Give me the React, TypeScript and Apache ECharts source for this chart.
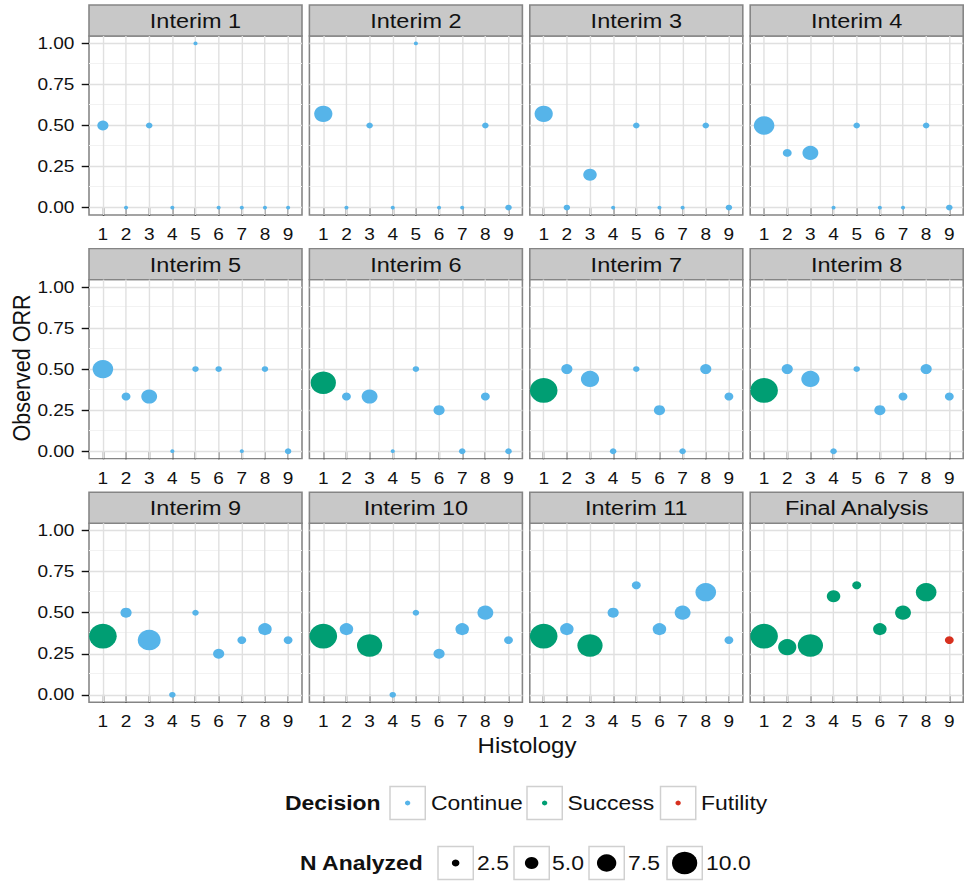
import React, { useEffect, useRef } from "react";
import * as echarts from "echarts";

// ---------------- data ----------------
const panelTitles = [
  "Interim 1", "Interim 2", "Interim 3", "Interim 4",
  "Interim 5", "Interim 6", "Interim 7", "Interim 8",
  "Interim 9", "Interim 10", "Interim 11", "Final Analysis",
];
const histology = [1, 2, 3, 4, 5, 6, 7, 8, 9];
const yTicks = [0, 0.25, 0.5, 0.75, 1];
const yMinorTicks = [0.125, 0.375, 0.625, 0.875];

// observed ORR per panel, histology 1..9
const observedORR = [
  [0.5, 0, 0.5, 0, 1, 0, 0, 0, 0],
  [0.571, 0, 0.5, 0, 1, 0, 0, 0.5, 0],
  [0.571, 0, 0.2, 0, 0.5, 0, 0, 0.5, 0],
  [0.5, 0.333, 0.333, 0, 0.5, 0, 0, 0.5, 0],
  [0.5, 0.333, 0.333, 0, 0.5, 0.5, 0, 0.5, 0],
  [0.417, 0.333, 0.333, 0, 0.5, 0.25, 0, 0.333, 0],
  [0.37, 0.5, 0.44, 0, 0.5, 0.25, 0, 0.5, 0.333],
  [0.37, 0.5, 0.44, 0, 0.5, 0.25, 0.333, 0.5, 0.333],
  [0.357, 0.5, 0.333, 0, 0.5, 0.25, 0.333, 0.4, 0.333],
  [0.357, 0.4, 0.3, 0, 0.5, 0.25, 0.4, 0.5, 0.333],
  [0.357, 0.4, 0.3, 0.5, 0.667, 0.4, 0.5, 0.625, 0.333],
  [0.357, 0.29, 0.3, 0.6, 0.667, 0.4, 0.5, 0.625, 0.333],
];

// N analyzed per panel, histology 1..9
const nAnalyzed = [
  [4, 1, 2, 1, 1, 1, 1, 1, 1],
  [7, 1, 2, 1, 1, 1, 1, 2, 2],
  [7, 2, 5, 1, 2, 1, 1, 2, 2],
  [8, 3, 6, 1, 2, 1, 1, 2, 2],
  [8, 3, 6, 1, 2, 2, 1, 2, 2],
  [10, 3, 6, 1, 2, 4, 2, 3, 2],
  [11, 4, 7, 2, 2, 4, 2, 4, 3],
  [11, 4, 7, 2, 2, 4, 3, 4, 3],
  [11, 4, 9, 2, 2, 4, 3, 5, 3],
  [11, 5, 10, 2, 2, 4, 5, 6, 3],
  [11, 5, 10, 4, 3, 5, 6, 8, 3],
  [11, 7, 10, 5, 3, 5, 6, 8, 3],
];

// decision per panel: C = Continue, S = Success, F = Futility
const decisions = [
  ["C", "C", "C", "C", "C", "C", "C", "C", "C"],
  ["C", "C", "C", "C", "C", "C", "C", "C", "C"],
  ["C", "C", "C", "C", "C", "C", "C", "C", "C"],
  ["C", "C", "C", "C", "C", "C", "C", "C", "C"],
  ["C", "C", "C", "C", "C", "C", "C", "C", "C"],
  ["S", "C", "C", "C", "C", "C", "C", "C", "C"],
  ["S", "C", "C", "C", "C", "C", "C", "C", "C"],
  ["S", "C", "C", "C", "C", "C", "C", "C", "C"],
  ["S", "C", "C", "C", "C", "C", "C", "C", "C"],
  ["S", "C", "S", "C", "C", "C", "C", "C", "C"],
  ["S", "C", "S", "C", "C", "C", "C", "C", "C"],
  ["S", "S", "S", "S", "S", "S", "S", "S", "F"],
];

const decisionCodes = ["C", "S", "F"];
const decisionNames = ["Continue", "Success", "Futility"];
const decisionColors = ["#56B4E9", "#009E73", "#D7301F"];
const sizeBreaks = [2.5, 5.0, 7.5, 10.0];

// ---------------- layout ----------------
const S = 966 / 863; // horizontal stretch of the reference
const W = 863;
const H = 882;
const FONT = '"Liberation Sans", Arial, Helvetica, sans-serif';
const panelW = 213 / S;
const panelH = 179;
const stripH = 31;
const panelLeft = (c: number) => (89 + 220.4 * c) / S;
const panelTop = (r: number) => 36 + 243.6 * r;
const sizeOf = (n: number) => 2.1 * n + 1.6;
const colorOf = (code: string) => decisionColors[decisionCodes.indexOf(code)];
const TEXT = "#111111";

function buildOption() {
  const grids: any[] = [];
  const xAxes: any[] = [];
  const yAxes: any[] = [];
  const series: any[] = [];
  const graphics: any[] = [];

  panelTitles.forEach((title, i) => {
    const c = i % 4;
    const r = Math.floor(i / 4);
    const left = panelLeft(c);
    const top = panelTop(r);
    grids.push({
      left, top, width: panelW, height: panelH,
      show: true, backgroundColor: "#ffffff",
      borderColor: "#858585", borderWidth: 1.4,
    });
    xAxes.push({
      type: "value", gridIndex: i, min: 0.4, max: 9.6,
      axisLine: { show: false },
      splitLine: { show: false },
      axisTick: {
        show: true, length: 8, customValues: histology,
        lineStyle: { color: "#111", width: 1.3 },
      },
      axisLabel: {
        show: true, customValues: histology, margin: 11,
        fontSize: 17, color: TEXT, fontFamily: FONT,
      },
    });
    yAxes.push({
      type: "value", gridIndex: i, min: -0.045, max: 1.045,
      axisLine: { show: false },
      splitLine: { show: false },
      axisTick: {
        show: c === 0, length: 6.5, customValues: yTicks,
        lineStyle: { color: "#111", width: 1.4 },
      },
      axisLabel: {
        show: c === 0, customValues: yTicks, margin: 13,
        fontSize: 17, color: TEXT, fontFamily: FONT,
        formatter: (v: number) => v.toFixed(2),
      },
    });
    // grid lines (below the points)
    series.push({
      type: "scatter", xAxisIndex: i, yAxisIndex: i, z: 1, silent: true, data: [],
      markLine: {
        silent: true, z: 1, symbol: ["none", "none"], label: { show: false },
        lineStyle: { type: "solid" },
        data: [
          ...yMinorTicks.map((v) => ({ yAxis: v, lineStyle: { color: "#F2F2F2", width: 1, type: "solid" } })),
          ...yTicks.map((v) => ({ yAxis: v, lineStyle: { color: "#E0E0E0", width: 1.4, type: "solid" } })),
          ...histology.map((v) => ({ xAxis: v, lineStyle: { color: "#E0E0E0", width: 1.25, type: "solid" } })),
        ],
      },
    });
    // points
    series.push({
      type: "scatter", name: title, xAxisIndex: i, yAxisIndex: i, z: 10,
      symbol: "circle",
      symbolSize: (val: number[]) => sizeOf(val[2]),
      data: histology.map((h, k) => ({
        value: [h, observedORR[i][k], nAnalyzed[i][k]],
        itemStyle: { color: colorOf(decisions[i][k]), opacity: 1 },
      })),
    });
    // strip
    graphics.push({
      type: "rect",
      shape: { x: left, y: top - stripH, width: panelW, height: stripH },
      style: { fill: "#C8C8C8", stroke: "#858585", lineWidth: 1.4 },
    });
    graphics.push({
      type: "text", x: left + panelW / 2, y: top - stripH / 2 + 0.5,
      style: {
        text: title, align: "center", verticalAlign: "middle",
        fontSize: 21, fontFamily: FONT, fill: TEXT,
      },
    });
  });

  // axis titles
  graphics.push({
    type: "text", x: 19.4, y: 368, rotation: Math.PI / 2,
    style: {
      text: "Observed ORR", align: "center", verticalAlign: "middle",
      fontSize: 21.5, fontFamily: FONT, fill: TEXT,
    },
  });
  graphics.push({
    type: "text", x: 527 / S, y: 745,
    style: {
      text: "Histology", align: "center", verticalAlign: "middle",
      fontSize: 21.5, fontFamily: FONT, fill: TEXT,
    },
  });

  // legend: Decision
  const boxW = 31.5;
  const boxH = 33;
  const row1 = 803;
  graphics.push({
    type: "text", x: 285 / S, y: row1,
    style: { text: "Decision", align: "left", verticalAlign: "middle", fontSize: 20.5, fontWeight: "bold", fontFamily: FONT, fill: TEXT },
  });
  const decBoxX = [390 / S, 527 / S, 660.5 / S];
  const decLabX = [431 / S, 567.5 / S, 701 / S];
  decisionNames.forEach((name, k) => {
    graphics.push({
      type: "rect", shape: { x: decBoxX[k], y: row1 - boxH / 2, width: boxW, height: boxH },
      style: { fill: "#ffffff", stroke: "#D0D0D0", lineWidth: 1.3 },
    });
    graphics.push({
      type: "circle", shape: { cx: decBoxX[k] + boxW / 2, cy: row1, r: 2.4 },
      style: { fill: decisionColors[k] },
    });
    graphics.push({
      type: "text", x: decLabX[k], y: row1,
      style: { text: name, align: "left", verticalAlign: "middle", fontSize: 20.5, fontFamily: FONT, fill: TEXT },
    });
  });

  // legend: N Analyzed
  const row2 = 863;
  graphics.push({
    type: "text", x: 300 / S, y: row2,
    style: { text: "N Analyzed", align: "left", verticalAlign: "middle", fontSize: 20.5, fontWeight: "bold", fontFamily: FONT, fill: TEXT },
  });
  const sizeBoxX = [438 / S, 514 / S, 589 / S, 667 / S];
  const sizeLabX = [477 / S, 552 / S, 628 / S, 706 / S];
  sizeBreaks.forEach((b, k) => {
    graphics.push({
      type: "rect", shape: { x: sizeBoxX[k], y: row2 - boxH / 2, width: boxW, height: boxH },
      style: { fill: "#ffffff", stroke: "#D0D0D0", lineWidth: 1.3 },
    });
    graphics.push({
      type: "circle", shape: { cx: sizeBoxX[k] + boxW / 2, cy: row2, r: sizeOf(b) / 2 },
      style: { fill: "#000000" },
    });
    graphics.push({
      type: "text", x: sizeLabX[k], y: row2,
      style: { text: b.toFixed(1), align: "left", verticalAlign: "middle", fontSize: 20.5, fontFamily: FONT, fill: TEXT },
    });
  });

  return {
    animation: false,
    backgroundColor: "#ffffff",
    grid: grids,
    xAxis: xAxes,
    yAxis: yAxes,
    series,
    graphic: { elements: graphics },
  };
}

export default function App() {
  const ref = useRef<HTMLDivElement>(null);
  useEffect(() => {
    if (!ref.current) return;
    const chart = echarts.init(ref.current, null, { renderer: "svg" });
    chart.setOption(buildOption() as any);
    return () => chart.dispose();
  }, []);
  return (
    <div
      ref={ref}
      style={{
        position: "absolute", left: 0, top: 0, width: W, height: H,
        transform: `scaleX(${S})`, transformOrigin: "0 0",
      }}
    />
  );
}
